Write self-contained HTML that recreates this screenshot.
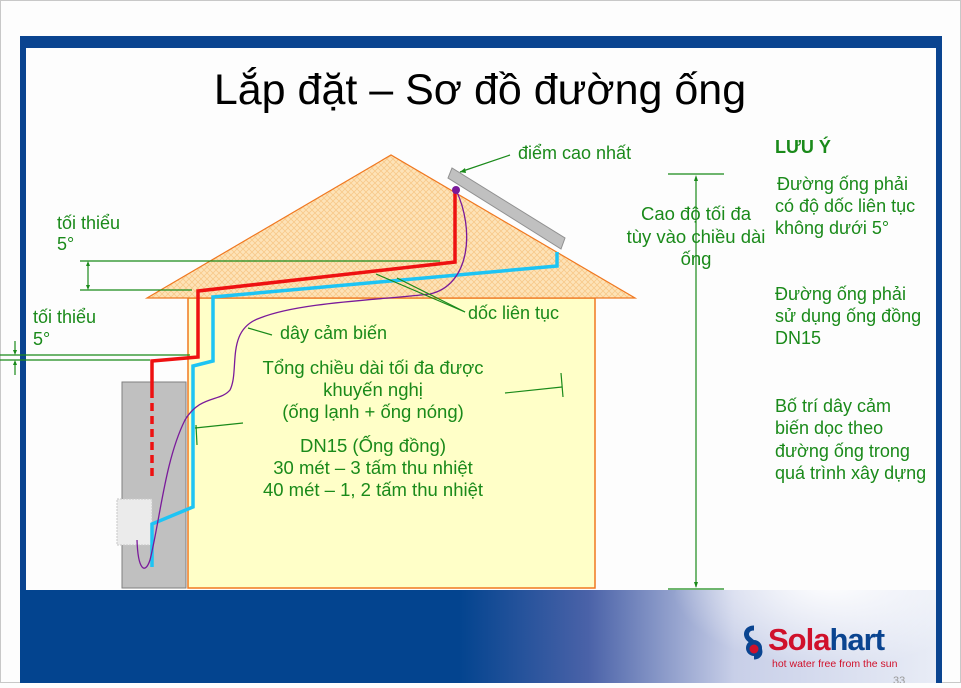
<!DOCTYPE html>
<html><head><meta charset="utf-8"><style>
body{margin:0;width:961px;height:683px;overflow:hidden;background:#fdfdfd;font-family:"Liberation Sans","Noto Sans CJK SC",sans-serif}
</style></head><body>
<svg width="961" height="683" viewBox="0 0 961 683" xmlns="http://www.w3.org/2000/svg" font-family="Liberation Sans, Noto Sans CJK SC, sans-serif">
<defs>
<pattern id="hatch" width="6" height="6" patternUnits="userSpaceOnUse">
<rect width="6" height="6" fill="#fde3b8"/>
<path d="M0 6L6 0M0 0L6 6" stroke="#f8c98a" stroke-width="0.8"/>
</pattern>
<linearGradient id="band" x1="0" x2="1" y1="0" y2="0">
<stop offset="0" stop-color="#03448f"/>
<stop offset="0.48" stop-color="#03448f"/>
<stop offset="0.62" stop-color="#4a62a8"/>
<stop offset="0.78" stop-color="#c8cfe8"/>
<stop offset="1" stop-color="#e8ecf6"/>
</linearGradient>
<radialGradient id="glow" cx="0.5" cy="0.3" r="0.5">
<stop offset="0" stop-color="#fff"/>
<stop offset="1" stop-color="#fff" stop-opacity="0"/>
</radialGradient>
<clipPath id="bc"><rect x="20" y="590" width="916" height="93"/></clipPath>
</defs>
<rect x="0.5" y="0.5" width="960" height="682" fill="#fdfdfd" stroke="#c8c8c8"/>
<rect x="20" y="36" width="922" height="647" fill="#0a4490"/>
<rect x="26" y="48" width="910" height="542" fill="#fdfdfd"/>
<rect x="20" y="590" width="916" height="93" fill="url(#band)"/>
<ellipse cx="830" cy="615" rx="160" ry="90" fill="url(#glow)" clip-path="url(#bc)"/>
<rect x="936" y="36" width="6" height="647" fill="#0a4490"/>
<!-- logo -->
<path d="M754 628c-8 0-10 8-4 12l6 5c6 4 5 12-2 12" stroke="#0a4490" stroke-width="5" fill="none"/>
<circle cx="754" cy="648" r="8" fill="#0a4490"/>
<circle cx="754" cy="649" r="4.5" fill="#d0112b"/>
<text x="768" y="650" font-size="31" font-weight="bold" fill="#d0112b" letter-spacing="-1">Sola<tspan fill="#0a4490">hart</tspan></text>
<text x="772" y="667" font-size="10.5" fill="#d0112b">hot water free from the sun</text>
<text x="893" y="684" font-size="11" fill="#999">33</text>
<text x="480" y="104" font-size="43" text-anchor="middle" fill="#000">Lắp đặt – Sơ đồ đường ống</text>
<rect x="188" y="298" width="407" height="290" fill="#ffffc8" stroke="#f07820" stroke-width="1.5"/>
<polygon points="147,298 391,155 635,298" fill="url(#hatch)" stroke="#f07820" stroke-width="1.2"/>
<rect x="122" y="382" width="64" height="206" fill="#c0c0c0" stroke="#808080"/>
<rect x="117" y="499" width="35" height="46" fill="#ebebeb" stroke="#c8c8c8" stroke-dasharray="2,1"/>
<polygon points="448,178 452,168 565,238 561,249" fill="#c0c0c0" stroke="#909090"/>
<path d="M152,390 L152,361 L198,357 L198,291 L455,262 L455,190" fill="none" stroke="#ee1111" stroke-width="3.5"/>
<path d="M152,390 L152,480" stroke="#ee1111" stroke-width="3.5" stroke-dasharray="8,5"/>
<path d="M152,567 L152,524 L193,507 L193,366 L213,361 L213,297 L557,266 L557,252" fill="none" stroke="#1ec4f4" stroke-width="3.5"/>
<path d="M456,190 C475,230 470,285 430,294 C380,300 300,302 260,318 C225,330 240,370 230,390 C220,402 200,395 185,420 C165,460 160,520 150,560 C145,575 138,570 137,540" fill="none" stroke="#7a1a9a" stroke-width="1.3"/>
<circle cx="456" cy="190" r="4" fill="#7a1a9a"/>
<g stroke="#1a8a1a" stroke-width="1.2" fill="none">
<line x1="80" y1="261" x2="440" y2="261"/>
<line x1="80" y1="290" x2="192" y2="290"/>
<line x1="88" y1="263" x2="88" y2="288"/>
<line x1="0" y1="355" x2="190" y2="355"/>
<line x1="0" y1="360" x2="150" y2="360"/>
<line x1="15" y1="341" x2="15" y2="353"/>
<line x1="15" y1="362" x2="15" y2="375"/>
<line x1="510" y1="155" x2="460" y2="172"/>
<line x1="465" y1="312" x2="376" y2="274"/>
<line x1="465" y1="312" x2="397" y2="278"/>
<line x1="272" y1="335" x2="248" y2="328"/>
<line x1="243" y1="423" x2="195" y2="428"/>
<line x1="196" y1="425" x2="197" y2="445"/>
<line x1="505" y1="393" x2="562" y2="387"/>
<line x1="561" y1="373" x2="563" y2="397"/>
<line x1="696" y1="178" x2="696" y2="587"/>
<line x1="668" y1="174" x2="724" y2="174"/>
<line x1="668" y1="589" x2="724" y2="589"/>
</g>
<g fill="#1a8a1a">
<polygon points="88,261 86,266 90,266"/><polygon points="88,290 86,285 90,285"/>
<polygon points="15,355 13,350 17,350"/><polygon points="15,360 13,365 17,365"/>
<polygon points="460,172 465,168 466,173"/>
<polygon points="696,175 694,181 698,181"/><polygon points="696,588 694,582 698,582"/>
</g>
<g fill="#1a8a1a" font-size="18">
<text x="57" y="229">tối thiểu</text><text x="57" y="250">5°</text>
<text x="33" y="323">tối thiểu</text><text x="33" y="345">5°</text>
<text x="518" y="159">điểm cao nhất</text>
<text x="468" y="319">dốc liên tục</text>
<text x="280" y="339">dây cảm biến</text>
<g text-anchor="middle" font-size="18.5">
<text x="373" y="374">Tổng chiều dài tối đa được</text>
<text x="373" y="396">khuyến nghị</text>
<text x="373" y="418">(ống lạnh + ống nóng)</text>
<text x="373" y="452">DN15 (Ống đồng)</text>
<text x="373" y="474">30 mét – 3 tấm thu nhiệt</text>
<text x="373" y="496">40 mét – 1, 2 tấm thu nhiệt</text>
<text x="696" y="220">Cao độ tối đa</text>
<text x="696" y="243">tùy vào chiều dài</text>
<text x="696" y="265">ống</text>
</g>
<text x="775" y="153" font-weight="bold">LƯU Ý</text>
<text x="777" y="190">Đường ống phải</text>
<text x="775" y="212">có độ dốc liên tục</text>
<text x="775" y="234">không dưới 5°</text>
<text x="775" y="300">Đường ống phải</text>
<text x="775" y="322">sử dụng ống đồng</text>
<text x="775" y="344">DN15</text>
<text x="775" y="412">Bố trí dây cảm</text>
<text x="775" y="434">biến dọc theo</text>
<text x="775" y="457">đường ống trong</text>
<text x="775" y="479">quá trình xây dựng</text>
</g>
</svg>
</body></html>
